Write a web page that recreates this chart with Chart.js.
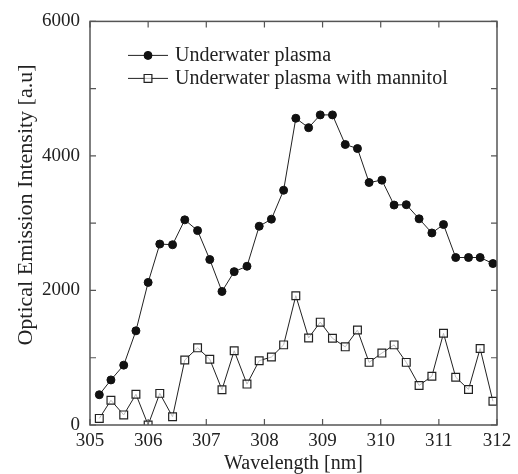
<!DOCTYPE html>
<html>
<head>
<meta charset="utf-8">
<script src="https://cdn.jsdelivr.net/npm/chart.js@4.4.0/dist/chart.umd.min.js"></script>
<style>
  html, body { margin: 0; padding: 0; background: #fff; }
  #wrap { width: 518px; height: 474px; }
</style>
</head>
<body>
<div id="wrap"><canvas id="oesChart"></canvas></div>
<script>
// values
var wavelength = [305.16, 305.36, 305.58, 305.79, 306.00, 306.20, 306.42, 306.63, 306.85, 307.06,
                  307.27, 307.48, 307.70, 307.91, 308.12, 308.33, 308.54, 308.76, 308.96, 309.17,
                  309.39, 309.60, 309.80, 310.02, 310.23, 310.44, 310.66, 310.88, 311.08, 311.29,
                  311.51, 311.71, 311.93];
var plasma = [450, 670, 890, 1400, 2120, 2690, 2680, 3050, 2890, 2460,
              1985, 2280, 2360, 2955, 3060, 3490, 4560, 4420, 4610, 4610,
              4170, 4110, 3605, 3640, 3270, 3275, 3065, 2855, 2980, 2490,
              2490, 2490, 2400];
var mannitol = [98, 368, 150, 456, 0, 470, 122, 966, 1147, 978,
                525, 1103, 608, 956, 1010, 1191, 1922, 1294, 1529, 1289,
                1162, 1412, 931, 1069, 1191, 931, 588, 725, 1363, 711,
                529, 1137, 353];
var xTicks = [305, 306, 307, 308, 309, 310, 311, 312];
var yTicks = [0, 1000, 2000, 3000, 4000, 5000, 6000];
var yLabels = [0, 2000, 4000, 6000];

var serif = "'Liberation Serif', 'Times New Roman', serif";

function toPoints(xs, ys) {
  var out = [];
  for (var i = 0; i < xs.length; i++) out.push({x: xs[i], y: ys[i]});
  return out;
}

// frame, inward ticks, y title and legend
var framePlugin = {
  id: 'frame',
  afterDraw: function(chart) {
    var ctx = chart.ctx, a = chart.chartArea;
    var xs = chart.scales.x, ys = chart.scales.y;
    ctx.save();
    ctx.strokeStyle = '#555';
    ctx.lineWidth = 1.5;
    ctx.strokeRect(a.left, a.top, a.right - a.left, a.bottom - a.top);
    ctx.lineWidth = 1.2;
    ctx.beginPath();
    xTicks.forEach(function(v) {
      var px = xs.getPixelForValue(v);
      ctx.moveTo(px, a.bottom); ctx.lineTo(px, a.bottom - 6);
      ctx.moveTo(px, a.top); ctx.lineTo(px, a.top + 6);
    });
    yTicks.forEach(function(v) {
      var py = ys.getPixelForValue(v);
      ctx.moveTo(a.left, py); ctx.lineTo(a.left + 6, py);
      ctx.moveTo(a.right, py); ctx.lineTo(a.right - 6, py);
    });
    ctx.stroke();

    // y axis title
    ctx.fillStyle = '#222';
    ctx.font = '22px ' + serif;
    ctx.textAlign = 'center';
    ctx.textBaseline = 'middle';
    ctx.translate(26, 205);
    ctx.rotate(-Math.PI / 2);
    ctx.fillText('Optical Emission Intensity [a.u]', 0, 0);
    ctx.restore();

    // legend
    ctx.save();
    chart.data.datasets.forEach(function(ds, i) {
      var y = a.top + 34 + i * 23;
      ctx.strokeStyle = ds.borderColor;
      ctx.lineWidth = 1;
      ctx.beginPath();
      ctx.moveTo(a.left + 38, y); ctx.lineTo(a.left + 78, y);
      ctx.stroke();
      ctx.fillStyle = ds.pointBackgroundColor;
      ctx.strokeStyle = ds.pointBorderColor;
      ctx.lineWidth = ds.pointBorderWidth;
      Chart.helpers.drawPoint(ctx, {pointStyle: ds.pointStyle, radius: ds.pointRadius, borderWidth: ds.pointBorderWidth, rotation: 0}, a.left + 58, y);
      ctx.fillStyle = '#222';
      ctx.font = '20px ' + serif;
      ctx.textAlign = 'left';
      ctx.textBaseline = 'middle';
      ctx.fillText(ds.label, a.left + 85, y);
    });
    ctx.restore();
  }
};

new Chart(document.getElementById('oesChart'), {
  type: 'scatter',
  data: {
    datasets: [{
      label: 'Underwater plasma',
      data: toPoints(wavelength, plasma),
      showLine: true,
      borderColor: '#222',
      borderWidth: 1,
      pointStyle: 'circle',
      pointRadius: 4,
      pointBackgroundColor: '#111',
      pointBorderColor: '#111',
      pointBorderWidth: 1
    }, {
      label: 'Underwater plasma with mannitol',
      data: toPoints(wavelength, mannitol),
      showLine: true,
      borderColor: '#222',
      borderWidth: 1,
      pointStyle: 'rect',
      pointRadius: 5.5,
      pointBackgroundColor: 'rgba(255,255,255,0.7)',
      pointBorderColor: '#222',
      pointBorderWidth: 1.2
    }]
  },
  options: {
    responsive: true,
    maintainAspectRatio: false,
    animation: false,
    layout: { padding: { top: 17, right: 21, left: 0, bottom: 0 } },
    plugins: {
      legend: { display: false },
      tooltip: { enabled: false }
    },
    scales: {
      x: {
        type: 'linear',
        min: 305,
        max: 312,
        afterFit: function(scale) { scale.height = 49; },
        afterBuildTicks: function(scale) {
          scale.ticks = xTicks.map(function(v) { return {value: v}; });
        },
        grid: { display: false, drawTicks: false },
        border: { display: false },
        ticks: {
          color: '#222',
          font: { family: serif, size: 19 },
          padding: 5,
          maxRotation: 0,
          autoSkip: false,
          callback: function(v) { return String(v); }
        },
        title: {
          display: true,
          text: 'Wavelength [nm]',
          color: '#222',
          font: { family: serif, size: 20, lineHeight: 1 },
          padding: { top: 0, bottom: 0 }
        }
      },
      y: {
        min: 0,
        max: 6000,
        afterFit: function(scale) { scale.width = 90; },
        afterBuildTicks: function(scale) {
          scale.ticks = yLabels.map(function(v) { return {value: v}; });
        },
        grid: { display: false, drawTicks: false },
        border: { display: false },
        ticks: {
          color: '#222',
          font: { family: serif, size: 19 },
          padding: 10,
          callback: function(v) { return String(v); }
        }
      }
    }
  },
  plugins: [framePlugin]
});
</script>
</body>
</html>
